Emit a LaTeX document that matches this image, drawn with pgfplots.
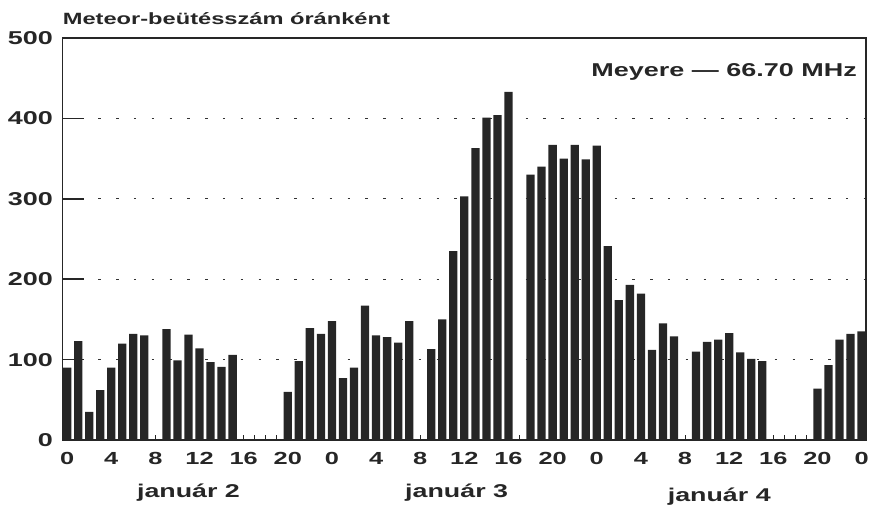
\documentclass[border=0pt]{standalone}
\usepackage{fontspec}
\setmainfont{Liberation Sans}[FakeStretch=1.45]
\usepackage{pgfplots}
\pgfplotsset{compat=1.18}
\usepackage{pgfplotstable}
\pgfplotstableread{
h v
0 90
1 123
2 35
3 62
4 90
5 120
6 132
7 130
9 138
10 99
11 131
12 114
13 97
14 91
15 106
20 60
21 98
22 139
23 132
24 148
25 77
26 90
27 167
28 130
29 128
30 121
31 148
33 113
34 150
35 235
36 303
37 363
38 401
39 404
40 433
42 330
43 340
44 367
45 350
46 367
47 349
48 366
49 241
50 174
51 193
52 182
53 112
54 145
55 129
57 110
58 122
59 125
60 133
61 109
62 101
63 98
68 64
69 93
70 125
71 132
72 135
}\meteor
\begin{document}
\begin{tikzpicture}
\path[use as bounding box] (0,0) rectangle (869pt,506pt);
\begin{axis}[
  at={(62.7pt,66pt)}, anchor=south west,
  scale only axis, width=803.3pt, height=402pt,
  xmin=-0.4, xmax=72.4, ymin=0, ymax=500,
  ytick={0,100,...,500},
  xtick={0,4,...,72},
  xticklabels={0,4,8,12,16,20,0,4,8,12,16,20,0,4,8,12,16,20,0},
  extra x ticks={17,18,19,41,65,66,67}, extra x tick labels={},
  extra x tick style={grid=none},
  tick align=inside, tick pos=left,
  major tick length=5pt,
  tick style={black!85, line width=1pt},
  ymajorgrids,
  major grid style={black!80, line width=1pt, dash pattern=on 2.5pt off 15.3pt},
  axis line style={black!85, line width=1.4pt},
  /pgf/number format/assume math mode=true,
  yticklabel style={font=\bfseries\fontsize{18.6}{20}\selectfont, inner sep=0pt, xshift=-9.7pt, text=black!85},
  xticklabel style={font=\bfseries\fontsize{17.5}{18}\selectfont, inner sep=0pt, yshift=-12pt, text=black!85},
  clip=false,
]
\addplot[black!85, line width=1.6pt, forget plot] coordinates {(-0.4,100) (1.5,100)};
\addplot[black!85, line width=1.6pt, forget plot] coordinates {(-0.4,200) (1.5,200)};
\addplot[black!85, line width=1.6pt, forget plot] coordinates {(-0.4,300) (1.5,300)};
\addplot[black!85, line width=1.6pt, forget plot] coordinates {(-0.4,400) (1.5,400)};
\addplot[ybar, bar width=0.75, bar shift=0pt, fill=black!85, draw=none] table[x=h, y=v] {\meteor};
\node[anchor=base west, inner sep=0pt, yshift=14pt, text=black!85, font=\bfseries\fontsize{16.3}{18}\selectfont] at (rel axis cs:0,1) {Meteor-beütésszám óránként};
\node[anchor=base east, inner sep=0pt, xshift=-9pt, yshift=-38pt, text=black!85, font=\bfseries\fontsize{18.6}{20}\selectfont] at (rel axis cs:1,1) {Meyere — 66.70 MHz};
\node[anchor=base, inner sep=0pt, yshift=-57pt, text=black!85, font=\bfseries\fontsize{18.5}{20}\selectfont] at (axis cs:11,0) {január 2};
\node[anchor=base, inner sep=0pt, yshift=-57pt, text=black!85, font=\bfseries\fontsize{18.5}{20}\selectfont] at (axis cs:35.3,0) {január 3};
\node[anchor=base, inner sep=0pt, yshift=-61pt, text=black!85, font=\bfseries\fontsize{18.5}{20}\selectfont] at (axis cs:59.1,0) {január 4};
\end{axis}
\end{tikzpicture}
\end{document}
